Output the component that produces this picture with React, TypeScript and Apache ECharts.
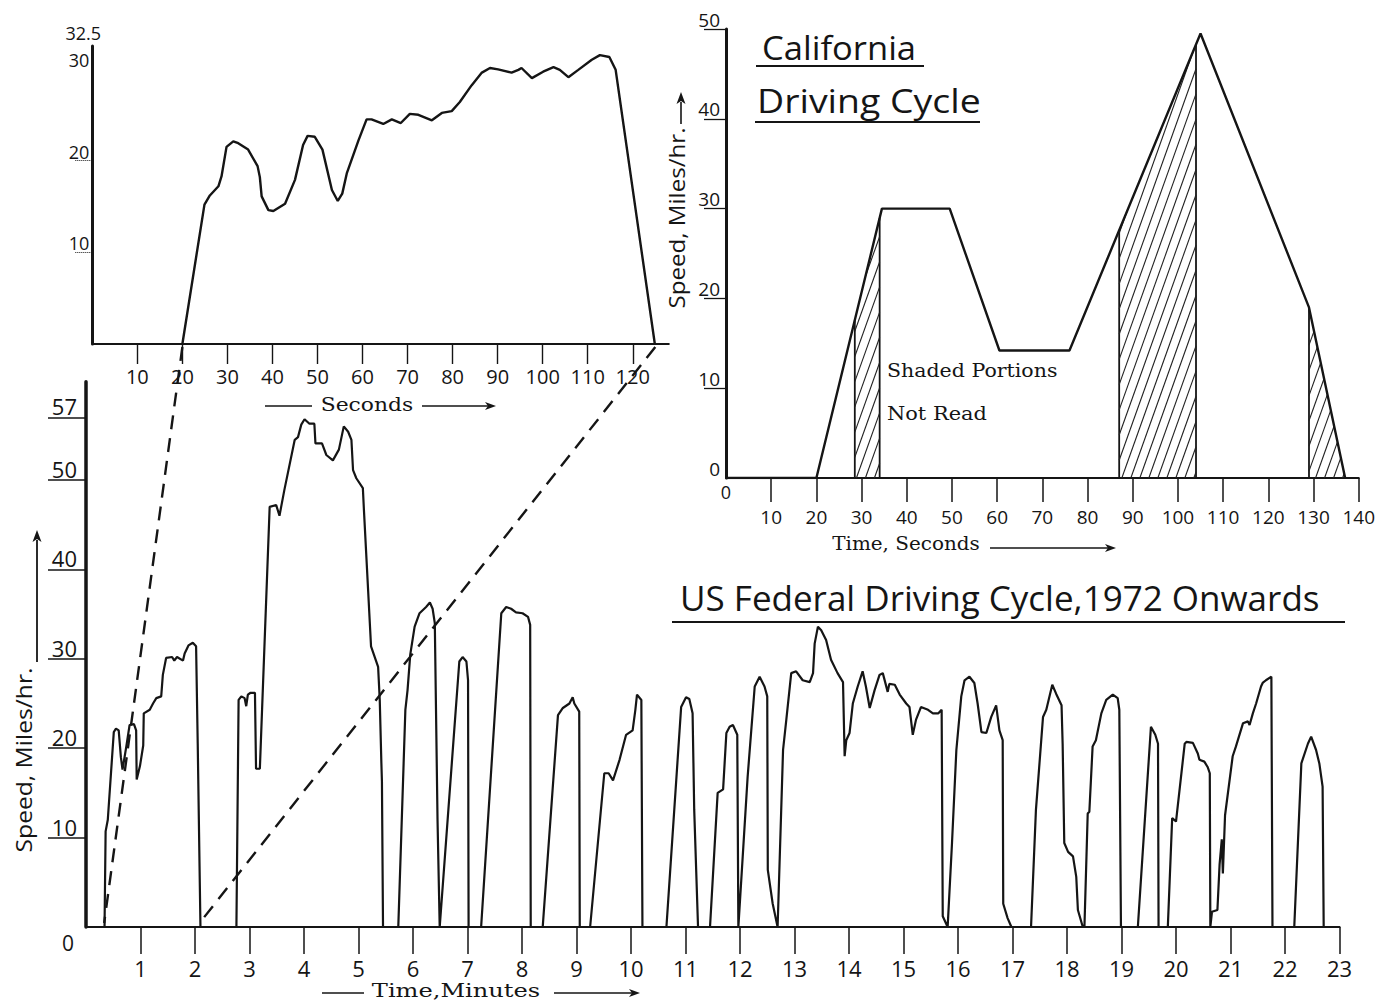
import React, { useEffect, useRef } from 'react';
import * as echarts from 'echarts';

// ---------- US Federal Driving Cycle (minutes, mph) ----------
const usMinutes = [
  0, 0.34, 0.36, 0.40, 0.51, 0.55, 0.60, 0.64, 0.67, 0.74, 0.80, 0.88, 0.92, 0.93, 0.99, 1.05, 1.06, 1.17, 1.23, 1.29, 1.38, 1.41, 1.47, 1.58, 1.62, 1.67, 1.78, 1.81, 1.88, 1.96, 2.02, 2.05, 2.10,
  2.76, 2.80, 2.85, 2.91, 2.94, 2.97, 3.02, 3.10, 3.12, 3.19, 3.37, 3.49, 3.55, 3.64, 3.83, 3.89, 3.95, 4.01, 4.10, 4.19, 4.21, 4.33, 4.41, 4.53, 4.64, 4.73, 4.81, 4.87, 4.90, 4.96, 5.08, 5.10, 5.23, 5.36, 5.39, 5.42, 5.43, 5.45,
  5.73, 5.86, 5.90, 5.95, 6.03, 6.12, 6.24, 6.31, 6.36, 6.40, 6.45, 6.49,
  6.50, 6.85, 6.91, 6.98, 7.01, 7.02,
  7.25, 7.62, 7.71, 7.80, 7.89, 8.01, 8.11, 8.15, 8.16,
  8.38, 8.66, 8.75, 8.87, 8.93, 8.96, 9.05, 9.06,
  9.25, 9.51, 9.59, 9.67, 9.79, 9.91, 10.03, 10.08, 10.11, 10.19, 10.21,
  10.65, 10.92, 11.01, 11.07, 11.13, 11.16, 11.23,
  11.45, 11.59, 11.69, 11.75, 11.81, 11.87, 11.95, 11.97,
  11.98, 12.14, 12.27, 12.36, 12.45, 12.50, 12.51, 12.60, 12.69,
  12.79, 12.85, 12.94, 13.03, 13.15, 13.28, 13.34, 13.37, 13.43, 13.49, 13.58, 13.67, 13.79, 13.89, 13.92, 13.95, 14.01, 14.07, 14.16, 14.25, 14.31, 14.38, 14.47, 14.56, 14.62, 14.71, 14.74, 14.84, 14.93, 15.05, 15.11, 15.17, 15.23, 15.32, 15.45, 15.54, 15.64, 15.70, 15.72, 15.81,
  15.89, 15.97, 16.06, 16.12, 16.21, 16.30, 16.36, 16.43, 16.52, 16.61, 16.70, 16.76, 16.82, 16.83, 16.91, 16.98,
  17.34, 17.43, 17.56, 17.62, 17.73, 17.80, 17.90, 17.92, 17.95, 18.02, 18.11, 18.17, 18.20, 18.29,
  18.32, 18.38, 18.41, 18.47, 18.53, 18.63, 18.72, 18.84, 18.93, 18.96, 18.99,
  19.30, 19.54, 19.62, 19.67, 19.68,
  19.85, 19.93, 20.00, 20.16, 20.19, 20.31, 20.40, 20.43, 20.52, 20.58, 20.62, 20.63,
  20.64, 20.66, 20.76, 20.80, 20.84, 20.86, 20.90, 21.04, 21.10, 21.23, 21.32, 21.35, 21.41, 21.47, 21.56, 21.59, 21.65, 21.75, 21.77,
  22.17, 22.30, 22.42, 22.48, 22.57, 22.63, 22.69, 22.71, 23,
];
const usSpeed = [
  0, 0, 10.7, 12.0, 21.8, 22.2, 22.0, 19.0, 17.6, 20.2, 22.6, 22.7, 22.0, 16.5, 18.0, 20.3, 23.9, 24.3, 25.0, 25.6, 25.8, 28.2, 30.1, 30.2, 29.8, 30.2, 29.8, 30.6, 31.5, 31.8, 31.4, 20.5, 0,
  0, 25.4, 25.8, 25.6, 24.7, 26.0, 26.2, 26.2, 17.7, 17.7, 47.0, 47.2, 46.0, 48.9, 54.5, 54.8, 56.2, 56.8, 56.3, 56.3, 54.1, 54.1, 52.8, 52.2, 53.4, 56.0, 55.4, 54.5, 51.1, 50.2, 49.1, 46.6, 31.4, 29.1, 25.4, 18.3, 16.3, 0,
  0, 24.3, 26.5, 30.5, 33.6, 35.1, 35.8, 36.3, 35.6, 34.0, 12.0, 0,
  0, 29.7, 30.2, 29.7, 27.6, 0,
  0, 35.1, 35.8, 35.6, 35.2, 35.1, 34.7, 33.8, 0,
  0, 23.7, 24.5, 25.0, 25.7, 25.0, 24.1, 0,
  0, 17.2, 17.2, 16.4, 18.7, 21.5, 22.0, 24.3, 26.0, 25.4, 0,
  0, 24.6, 25.7, 25.5, 23.9, 13.1, 0,
  0, 15.0, 15.4, 21.7, 22.4, 22.6, 21.5, 0,
  0, 16.8, 26.9, 28.0, 26.9, 25.8, 6.4, 2.6, 0,
  19.8, 23.2, 28.4, 28.6, 27.6, 27.4, 28.4, 31.7, 33.6, 33.2, 32.1, 29.9, 28.4, 27.4, 19.1, 20.9, 21.7, 25.0, 26.9, 28.6, 26.9, 24.5, 26.5, 28.2, 28.4, 26.3, 27.2, 27.1, 26.0, 25.0, 24.6, 21.5, 23.2, 24.6, 24.3, 23.9, 23.9, 24.3, 1.2, 0,
  9.4, 19.8, 25.8, 27.6, 28.0, 27.3, 25.0, 21.8, 21.7, 23.5, 24.8, 22.0, 20.9, 2.6, 1.0, 0,
  0, 13.1, 23.5, 24.3, 27.1, 26.1, 24.8, 20.5, 9.4, 8.4, 7.9, 5.6, 1.9, 0,
  0, 12.7, 12.9, 20.2, 20.9, 23.9, 25.4, 26.0, 25.6, 24.3, 0,
  0, 22.4, 21.5, 20.5, 0,
  0, 12.2, 11.8, 20.5, 20.7, 20.6, 19.4, 18.7, 18.5, 17.9, 17.2, 0,
  0, 1.7, 1.9, 7.0, 9.8, 6.0, 12.5, 19.1, 20.2, 22.8, 23.0, 22.6, 23.9, 25.0, 26.9, 27.3, 27.6, 28.0, 0,
  0, 18.3, 20.5, 21.3, 19.8, 18.3, 15.7, 0, 0,
];
const usXTicks = [1, 2, 3, 4, 5, 6, 7, 8, 9, 10, 11, 12, 13, 14, 15, 16, 17, 18, 19, 20, 21, 22, 23];
const usYTicks = [10, 20, 30, 40, 50, 57];

// ---------- Inset: first hill in seconds ----------
const insetSec = [20, 24.9, 26.1, 28.0, 28.7, 29.8, 31.3, 32.4, 34.6, 36.7, 37.2, 37.6, 39.1, 40.2, 42.8, 45.0, 46.8, 47.8, 49.4, 51.1, 53.2, 54.5, 55.5, 56.5, 59.1, 60.9, 62.0, 64.6, 66.5, 68.5, 70.5, 72.4, 75.4, 77.6, 79.8, 81.6, 84.2, 86.5, 88.3, 90.1, 93.1, 94.6, 95.3, 97.6, 100.1, 102.4, 103.8, 105.7, 107.9, 110.9, 112.7, 114.8, 116.2, 124.9];
const insetSpeed = [0, 15.2, 16.2, 17.2, 18.3, 21.5, 22.1, 21.9, 21.2, 19.4, 18.2, 16.1, 14.6, 14.5, 15.3, 17.9, 21.7, 22.7, 22.6, 21.2, 16.8, 15.6, 16.4, 18.6, 22.2, 24.5, 24.5, 24.0, 24.5, 24.1, 25.1, 25.0, 24.4, 25.2, 25.4, 26.4, 28.2, 29.6, 30.1, 29.95, 29.6, 29.9, 30.1, 29.0, 29.7, 30.2, 29.9, 29.1, 29.9, 31.0, 31.5, 31.3, 29.9, 0];
const insetXTicks = [10, 20, 30, 40, 50, 60, 70, 80, 90, 100, 110, 120];
const insetYLabels = [10, 20, 30];
const insetYMax = 32.5;
const zoomWindowSec = [20, 125];

// ---------- California Driving Cycle ----------
const calSec = [0, 20, 34.5, 49.5, 60.5, 76, 105, 129, 137];
const calSpeed = [0, 0, 30, 30, 14.2, 14.2, 49.5, 19, 0];
const calShaded = [[28.5, 34], [87, 104], [129, 137]];
const calXTicks = [10, 20, 30, 40, 50, 60, 70, 80, 90, 100, 110, 120, 130, 140];
const calYTicks = [0, 10, 20, 30, 40, 50];

const INK = '#151515';
const SANS = "'Open Sans', 'DejaVu Sans', sans-serif";
const SERIF = "'DejaVu Serif', 'Liberation Serif', serif";

function calAt(t: number): number {
  for (let i = 0; i < calSec.length - 1; i++) {
    if (t >= calSec[i] && t <= calSec[i + 1]) {
      const u = (t - calSec[i]) / (calSec[i + 1] - calSec[i]);
      return calSpeed[i] + u * (calSpeed[i + 1] - calSpeed[i]);
    }
  }
  return 0;
}

function zip(a: number[], b: number[]) {
  return a.map((v, i) => [v, b[i]]);
}

function txt(x: number, y: number, text: string, font: string, align = 'left', rotation = 0, scaleX = 1) {
  return {
    type: 'text', x, y, rotation, scaleX, z: 50,
    style: { text, font, fill: INK, align, textAlign: align, verticalAlign: 'middle', textVerticalAlign: 'middle' },
  };
}
function seg(x1: number, y1: number, x2: number, y2: number, w = 1.6, dash?: number[]) {
  return { type: 'line', z: 50, shape: { x1, y1, x2, y2 }, style: { stroke: INK, lineWidth: w, lineDash: dash } };
}
function headRight(x: number, y: number) {
  return { type: 'polygon', z: 50, shape: { points: [[x, y], [x - 11, y - 4], [x - 8, y], [x - 11, y + 4]] }, style: { fill: INK } };
}
function headUp(x: number, y: number) {
  return { type: 'polygon', z: 50, shape: { points: [[x, y], [x - 4.5, y + 12], [x, y + 9], [x + 4.5, y + 12]] }, style: { fill: INK } };
}

export default function App() {
  const ref = useRef<HTMLDivElement>(null);
  useEffect(() => {
    if (!ref.current) return;
    const chart = echarts.init(ref.current, undefined, { renderer: 'svg' });
    const axisLine = (w: number) => ({ show: true, onZero: false, lineStyle: { color: INK, width: w } });
    const option: any = {
      animation: false,
      backgroundColor: '#ffffff',
      grid: [
        { left: 92.3, top: 46, width: 576.5, height: 298 },
        { left: 86, top: 381.7, width: 1253.5, height: 545.3 },
        { left: 726, top: 29, width: 633, height: 449 },
      ],
      xAxis: [
        {
          type: 'value', gridIndex: 0, min: 0, max: 128,
          axisLine: axisLine(2),
          splitLine: { show: false },
          axisTick: { show: true, customValues: insetXTicks, length: 20, lineStyle: { color: INK, width: 1.4 } },
          axisLabel: { customValues: insetXTicks, margin: 22, fontSize: 20, color: INK, fontFamily: SANS },
        },
        {
          type: 'value', gridIndex: 1, min: 0, max: 23,
          axisLine: axisLine(2.2),
          splitLine: { show: false },
          axisTick: { show: true, customValues: usXTicks, length: 27, lineStyle: { color: INK, width: 1.5 } },
          axisLabel: { customValues: usXTicks, margin: 30, fontSize: 22, color: INK, fontFamily: SANS },
        },
        {
          type: 'value', gridIndex: 2, min: 0, max: 140,
          axisLine: axisLine(2.2),
          splitLine: { show: false },
          axisTick: { show: true, customValues: calXTicks, length: 24, lineStyle: { color: INK, width: 1.5 } },
          axisLabel: { customValues: calXTicks, margin: 29, fontSize: 19, color: INK, fontFamily: SANS },
        },
      ],
      yAxis: [
        {
          type: 'value', gridIndex: 0, min: 0, max: insetYMax,
          axisLine: axisLine(3),
          splitLine: { show: false },
          axisTick: { show: true, customValues: [10, 20], length: 18, lineStyle: { color: INK, width: 1, type: 'dotted' } },
          axisLabel: { customValues: insetYLabels, margin: 3, fontSize: 18, lineHeight: 18, color: INK, fontFamily: SANS, verticalAlign: 'bottom' },
        },
        {
          type: 'value', gridIndex: 1, min: 0, max: 61,
          axisLine: axisLine(3.5),
          splitLine: { show: false },
          axisTick: { show: true, customValues: usYTicks, length: 38, lineStyle: { color: INK, width: 1.5 } },
          axisLabel: { customValues: usYTicks, margin: 9, fontSize: 22, color: INK, fontFamily: SANS, verticalAlign: 'bottom' },
        },
        {
          type: 'value', gridIndex: 2, min: 0, max: 50,
          axisLine: axisLine(3),
          splitLine: { show: false },
          axisTick: { show: true, customValues: calYTicks.filter((v) => v > 0), length: 22, lineStyle: { color: INK, width: 1.3 } },
          axisLabel: { customValues: calYTicks, margin: 6, fontSize: 19, color: INK, fontFamily: SANS, verticalAlign: 'bottom' },
        },
      ],
      series: [
        {
          type: 'line', xAxisIndex: 0, yAxisIndex: 0, data: zip(insetSec, insetSpeed),
          symbol: 'none', lineStyle: { color: INK, width: 2.4 }, z: 5,
        },
        {
          type: 'line', xAxisIndex: 1, yAxisIndex: 1, data: zip(usMinutes, usSpeed),
          symbol: 'none', lineStyle: { color: INK, width: 2.2 }, z: 5,
        },
        {
          type: 'custom', xAxisIndex: 2, yAxisIndex: 2, coordinateSystem: 'cartesian2d',
          data: calShaded.map((r) => [r[0], r[1], 0]),
          encode: { x: [0, 1], y: 2 },
          z: 4,
          renderItem: (params: any, api: any) => {
            const a = api.value(0) as number;
            const b = api.value(1) as number;
            const pts: number[][] = [[a, 0], [a, calAt(a)]];
            calSec.forEach((s, i) => { if (s > a && s < b) pts.push([s, calSpeed[i]]); });
            pts.push([b, calAt(b)], [b, 0]);
            const px = pts.map((p) => api.coord(p));
            const n = px.length;
            const children: any[] = [];
            const edge = { stroke: INK, lineWidth: 1.8 };
            children.push({ type: 'line', shape: { x1: px[0][0], y1: px[0][1], x2: px[1][0], y2: px[1][1] }, style: edge });
            if (Math.abs(px[n - 1][1] - px[n - 2][1]) > 1) {
              children.push({ type: 'line', shape: { x1: px[n - 1][0], y1: px[n - 1][1], x2: px[n - 2][0], y2: px[n - 2][1] }, style: edge });
            }
            const slope = 2.8;
            const gap = 9;
            const baseY = px[0][1];
            const xs = px.map((p) => p[0]);
            const ys = px.map((p) => p[1]);
            const minX = Math.min(...xs);
            const maxX = Math.max(...xs);
            const minY = Math.min(...ys);
            for (let c = minX - (baseY - minY) / slope + gap / 2; c < maxX; c += gap) {
              const g = (p: number[]) => p[0] - c - (baseY - p[1]) / slope;
              const hits: number[][] = [];
              for (let i = 0; i < n; i++) {
                const p = px[i];
                const q = px[(i + 1) % n];
                const gp = g(p);
                const gq = g(q);
                if ((gp <= 0 && gq > 0) || (gp > 0 && gq <= 0)) {
                  const u = gp / (gp - gq);
                  hits.push([p[0] + u * (q[0] - p[0]), p[1] + u * (q[1] - p[1])]);
                }
              }
              if (hits.length >= 2) {
                hits.sort((h1, h2) => h1[1] - h2[1]);
                const h1 = hits[0];
                const h2 = hits[hits.length - 1];
                children.push({ type: 'line', shape: { x1: h1[0], y1: h1[1], x2: h2[0], y2: h2[1] }, style: { stroke: '#222', lineWidth: 1.1 } });
              }
            }
            return { type: 'group', children };
          },
        },
        {
          type: 'line', xAxisIndex: 2, yAxisIndex: 2, data: zip(calSec, calSpeed),
          symbol: 'none', lineStyle: { color: INK, width: 2.4 }, z: 5,
        },
      ],
    };
    chart.setOption(option);

    const u1 = chart.convertToPixel({ gridIndex: 0 }, [zoomWindowSec[0], 0]) as number[];
    const u2 = chart.convertToPixel({ gridIndex: 0 }, [zoomWindowSec[1], 0]) as number[];
    const l1 = chart.convertToPixel({ gridIndex: 1 }, [zoomWindowSec[0] / 60, 0]) as number[];
    const l2 = chart.convertToPixel({ gridIndex: 1 }, [zoomWindowSec[1] / 60, 0]) as number[];
    const origin = chart.convertToPixel({ gridIndex: 1 }, [0, 0]) as number[];
    const calOrigin = chart.convertToPixel({ gridIndex: 2 }, [0, 0]) as number[];
    const insetTop = chart.convertToPixel({ gridIndex: 0 }, [0, insetYMax]) as number[];

    const graphic: any[] = [
      // dashed connectors
      seg(u1[0], u1[1] + 3, l1[0], l1[1] - 4, 2.4, [14, 9]),
      seg(u2[0], u2[1] + 3, l2[0], l2[1] - 4, 2.4, [14, 9]),
      // extra axis labels
      txt(insetTop[0] - 9, insetTop[1] - 13, String(insetYMax), `18px ${SANS}`, 'center'),
      txt(origin[0] - 18, origin[1] + 16, '0', `21px ${SANS}`, 'center'),
      txt(calOrigin[0], calOrigin[1] + 14, '0', `18px ${SANS}`, 'center'),
      // main title
      txt(680, 598, 'US Federal Driving Cycle,1972 Onwards', `34px ${SANS}`, 'left', 0, 1.03),
      seg(672, 622, 1345, 622, 2),
      // California title
      txt(762, 48, 'California', `32px ${SANS}`, 'left', 0, 1.08),
      seg(756, 66, 924, 66, 1.8),
      txt(757, 101, 'Driving Cycle', `32px ${SANS}`, 'left', 0, 1.17),
      seg(755, 122, 980, 122, 1.8),
      txt(887, 371, 'Shaded Portions', `19px ${SERIF}`, 'left', 0, 1.08),
      txt(887, 413, 'Not Read', `19px ${SERIF}`, 'left', 0, 1.1),
      // inset x name
      seg(265, 406, 312, 406, 1.6),
      txt(367, 405, 'Seconds', `19px ${SERIF}`, 'center', 0, 1.15),
      seg(422, 406, 492, 406, 1.6),
      headRight(496, 406),
      // California x name
      txt(906, 544, 'Time, Seconds', `19px ${SERIF}`, 'center', 0, 1.05),
      seg(990, 548, 1112, 548, 1.6),
      headRight(1116, 548),
      // main x name
      seg(322, 993, 364, 993, 1.6),
      txt(456, 990, 'Time,Minutes', `19px ${SERIF}`, 'center', 0, 1.27),
      seg(554, 993, 636, 993, 1.6),
      headRight(640, 993),
      // main y name
      txt(24, 760, 'Speed, Miles/hr.', `22px ${SANS}`, 'center', Math.PI / 2, 1.12),
      seg(37, 662, 37, 540, 1.8),
      headUp(37, 530),
      // California y name
      txt(677, 218, 'Speed, Miles/hr.', `21px ${SANS}`, 'center', Math.PI / 2, 1.15),
      seg(681, 124, 681, 102, 1.6),
      headUp(681, 92),
    ];
    chart.setOption({ graphic });
    return () => chart.dispose();
  }, []);
  return <div ref={ref} style={{ position: 'fixed', left: 0, top: 0, width: 1378, height: 1004 }} />;
}
